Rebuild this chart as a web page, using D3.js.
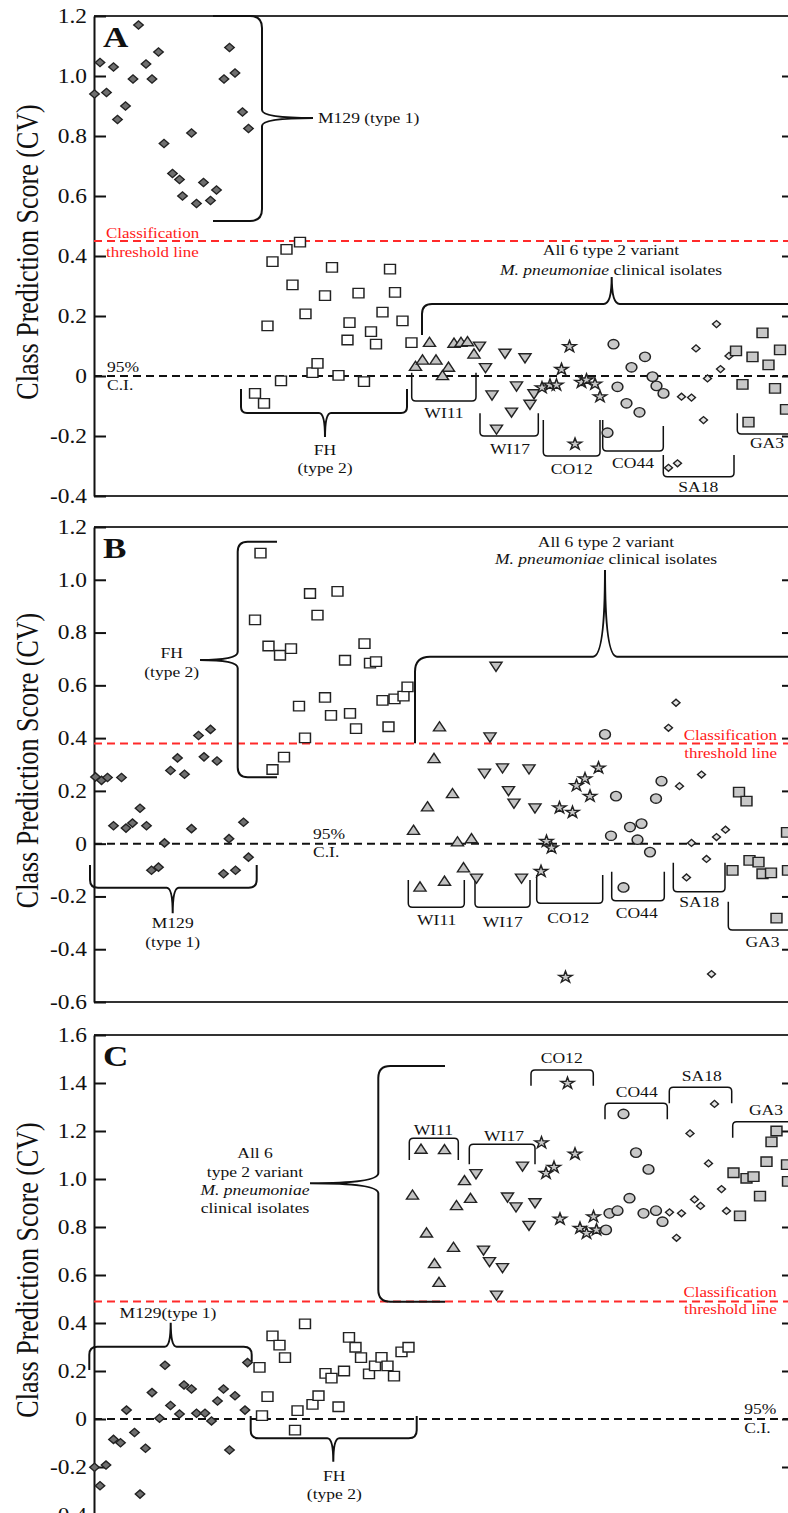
<!DOCTYPE html>
<html>
<head>
<meta charset="utf-8">
<script src="https://cdn.jsdelivr.net/npm/d3@7"></script>
<style>
  body { margin: 0; background: #fff; }
  svg { display: block; }
</style>
</head>
<body>
<div id="chart"></div>
<script>
// [sample position, class prediction score]
const groups = ["M129", "FH", "WI11", "WI17", "CO12", "CO44", "SA18", "GA3"];

const aM129 = [[0.1,0.94],[1.2,1.045],[2.5,0.945],[3.9,1.03],[4.7,0.855],[6.3,0.90],[7.8,0.99],[8.9,1.17],[10.4,1.04],[11.6,0.99],[12.9,1.08],[14.0,0.775],[15.7,0.675],[17.1,0.655],[17.7,0.60],[19.5,0.81],[20.5,0.575],[21.9,0.645],[23.3,0.585],[24.5,0.62],[26.0,0.99],[27.1,1.095],[28.2,1.01],[29.7,0.88],[30.9,0.825]];
const aFH = [[32.2,-0.058],[34.0,-0.091],[34.7,0.167],[35.7,0.381],[37.4,-0.016],[38.5,0.422],[39.7,0.304],[41.2,0.446],[42.3,0.207],[43.7,0.011],[44.7,0.042],[46.2,0.268],[47.6,0.362],[48.9,0.002],[50.7,0.12],[51.1,0.178],[52.9,0.276],[54.0,-0.019],[55.4,0.148],[56.4,0.106],[57.7,0.213],[59.2,0.356],[60.2,0.279],[61.7,0.184],[63.5,0.111]];
const aWI11 = [[64.3,0.029],[65.7,0.05],[67.1,0.109],[68.4,0.05],[69.7,-0.002],[70.9,0.026],[72.0,0.106],[73.4,0.109],[74.7,0.111],[76.0,0.07]];
const aWI17 = [[77.1,0.103],[78.3,0.031],[79.6,-0.06],[80.5,-0.174],[82.2,0.079],[83.5,-0.117],[84.5,-0.03],[86.2,0.064],[87.2,-0.091],[88.0,-0.056]];
const aCO12 = [[89.6,-0.039],[91.2,-0.03],[92.5,-0.03],[93.5,0.022],[95.1,0.098],[96.2,-0.227],[97.5,-0.021],[98.5,-0.013],[100.2,-0.027],[101.2,-0.069]];
const aCO44 = [[102.7,-0.189],[103.9,0.106],[104.7,-0.036],[106.5,-0.091],[107.5,0.029],[109.1,-0.121],[110.2,0.064],[111.7,-0.002],[112.5,-0.033],[113.9,-0.058]];
const aSA18 = [[114.9,-0.306],[116.7,-0.291],[117.5,-0.069],[119.5,-0.072],[120.4,0.092],[121.9,-0.147],[122.7,-0.008],[124.5,0.173],[125.3,0.023],[127.0,0.067]];
const aGA3 = [[128.4,0.084],[129.7,-0.028],[130.9,-0.154],[131.7,0.064],[133.7,0.144],[134.9,0.037],[136.2,-0.041],[137.2,0.087],[138.4,-0.111]];

const bM129 = [[0.3,0.253],[1.5,0.24],[2.7,0.251],[3.9,0.068],[5.5,0.251],[6.4,0.059],[7.7,0.078],[9.2,0.134],[10.5,0.068],[11.5,-0.101],[12.9,-0.089],[14.1,0.003],[15.3,0.277],[16.7,0.325],[18.1,0.263],[19.5,0.057],[20.9,0.41],[22.0,0.329],[23.3,0.433],[24.6,0.313],[25.9,-0.114],[27.0,0.019],[28.3,-0.101],[29.9,0.081],[30.9,-0.051]];
const bFH = [[32.2,0.848],[33.3,1.101],[34.9,0.749],[35.7,0.281],[37.2,0.714],[38.0,0.328],[39.4,0.739],[41.0,0.521],[42.2,0.401],[43.2,0.948],[44.7,0.866],[46.2,0.554],[47.4,0.486],[48.7,0.956],[50.2,0.695],[51.2,0.494],[52.4,0.436],[54.1,0.758],[55.2,0.684],[56.4,0.69],[57.7,0.543],[58.9,0.443],[60.1,0.549],[61.9,0.559],[62.7,0.594]];
const bWI11 = [[63.9,0.047],[65.2,-0.168],[66.7,0.136],[68.0,0.319],[69.1,0.439],[70.1,-0.146],[71.7,0.186],[72.7,0.003],[73.9,-0.095],[75.5,0.015]];
const bWI17 = [[76.5,-0.127],[78.1,0.271],[79.2,0.408],[80.4,0.676],[81.7,0.291],[82.9,0.205],[84.0,0.157],[85.5,-0.127],[87.0,0.287],[88.2,0.139]];
const bCO12 = [[89.4,-0.105],[90.5,0.009],[91.5,-0.016],[93.1,0.136],[94.3,-0.506],[95.7,0.119],[96.5,0.22],[98.2,0.246],[99.2,0.18],[100.9,0.287]];
const bCO44 = [[102.2,0.414],[103.4,0.03],[104.4,0.18],[105.9,-0.166],[107.2,0.063],[108.7,0.015],[109.5,0.076],[111.2,-0.032],[112.4,0.171],[113.5,0.237]];
const bSA18 = [[114.9,0.439],[116.4,0.534],[117.1,0.218],[118.5,-0.128],[119.5,0.003],[121.5,0.262],[122.5,-0.058],[123.5,-0.494],[124.5,0.025],[126.3,0.053]];
const bGA3 = [[127.7,-0.101],[129.0,0.195],[130.5,0.161],[131.1,-0.063],[132.9,-0.07],[133.7,-0.114],[135.4,-0.111],[136.5,-0.282],[138.6,0.043],[138.8,-0.101]];

const cM129 = [[0.1,-0.201],[1.2,-0.278],[2.4,-0.192],[3.9,-0.085],[5.3,-0.099],[6.5,0.037],[8.1,-0.056],[9.2,-0.313],[10.3,-0.122],[11.6,0.11],[13.1,0.003],[14.2,0.224],[15.3,0.056],[17.1,0.021],[18.0,0.142],[19.5,0.125],[20.5,0.024],[22.2,0.024],[23.5,-0.008],[24.7,0.075],[25.9,0.125],[27.1,-0.129],[28.2,0.097],[30.2,0.037],[30.7,0.235]];
const cFH = [[33.1,0.215],[33.6,0.014],[34.7,0.093],[35.7,0.346],[37.1,0.308],[38.2,0.256],[40.2,-0.046],[40.7,0.035],[42.2,0.396],[43.7,0.061],[44.9,0.097],[46.3,0.19],[47.5,0.17],[48.9,0.051],[50.0,0.2],[51.0,0.34],[52.3,0.299],[53.4,0.256],[55.0,0.188],[56.2,0.221],[57.5,0.257],[58.7,0.221],[60.0,0.179],[61.5,0.28],[62.9,0.299]];
const cWI11 = [[63.7,0.929],[65.4,1.12],[66.5,0.771],[68.1,0.643],[69.0,0.565],[70.1,1.118],[71.9,0.711],[72.5,0.885],[74.1,0.989],[75.3,0.915]];
const cWI17 = [[76.4,1.026],[77.9,0.708],[79.1,0.66],[80.5,0.52],[81.7,0.635],[82.7,0.929],[84.4,0.888],[85.7,1.058],[87.0,0.811],[88.2,0.905]];
const cCO12 = [[89.5,1.151],[90.4,1.024],[92.0,1.049],[93.2,0.833],[94.7,1.399],[96.2,1.104],[97.2,0.795],[98.5,0.774],[99.9,0.843],[100.5,0.788]];
const cCO44 = [[102.4,0.788],[103.1,0.857],[104.7,0.868],[105.9,1.271],[107.1,0.92],[108.4,1.11],[109.9,0.857],[110.9,1.04],[112.4,0.868],[113.7,0.822]];
const cSA18 = [[115.1,0.861],[116.5,0.755],[117.5,0.857],[119.2,1.19],[120.1,0.915],[121.3,0.888],[122.9,1.065],[124.1,1.313],[125.5,0.958],[126.5,0.867]];
const cGA3 = [[127.9,1.026],[129.2,0.846],[130.5,1.003],[131.9,1.01],[133.2,0.929],[134.5,1.072],[135.5,1.155],[136.5,1.2],[138.6,1.06],[138.8,0.99]];

const ticksA = [-0.4, -0.2, 0, 0.2, 0.4, 0.6, 0.8, 1.0, 1.2];
const ticksB = [-0.6, -0.4, -0.2, 0, 0.2, 0.4, 0.6, 0.8, 1.0, 1.2];
const ticksC = [-0.4, -0.2, 0, 0.2, 0.4, 0.6, 0.8, 1.0, 1.2, 1.4, 1.6];
const thresholds = [0.45, 0.38, 0.49];

const W = 788, H = 1513;
const SX = 1.17;   // the original figure is stretched sideways
const FONT = "'Liberation Serif','Times New Roman',serif";

const markerStyle = {
    M129: { type: d3.symbolSquare, size: 34, rot: 45, fill: "#6f6f6f" },
    FH:   { type: d3.symbolSquare, size: 90, rot: 0, fill: "#fff" },
    WI11: { type: d3.symbolTriangle, size: 48, rot: 0, fill: "#c2c2c2" },
    WI17: { type: d3.symbolTriangle, size: 48, rot: 180, fill: "#c2c2c2" },
    CO12: { type: d3.symbolStar, size: 42, rot: 0, fill: "#c8c8c8" },
    CO44: { type: d3.symbolCircle, size: 70, rot: 0, fill: "#c8c8c8" },
    SA18: { type: d3.symbolSquare, size: 24, rot: 45, fill: "#e2e2e2" },
    GA3:  { type: d3.symbolSquare, size: 90, rot: 0, fill: "#c8c8c8" }
};

const x = d3.scaleLinear().domain([0, 140]).range([94, 794]);

const panels = [
    { letter: "A", series: [aM129, aFH, aWI11, aWI17, aCO12, aCO44, aSA18, aGA3], ticks: ticksA,
      domain: [-0.4, 1.2], range: [496, 16], thr: thresholds[0] },
    { letter: "B", series: [bM129, bFH, bWI11, bWI17, bCO12, bCO44, bSA18, bGA3], ticks: ticksB,
      domain: [-0.6, 1.2], range: [1002, 527], thr: thresholds[1] },
    { letter: "C", series: [cM129, cFH, cWI11, cWI17, cCO12, cCO44, cSA18, cGA3], ticks: ticksC,
      domain: [-0.4, 1.6], range: [1515, 1035], thr: thresholds[2] }
];

// annotation layout (pixels)
const braces = [
    [ // A
        { v: true, a1: 16, a2: 221, e1: 213, e2: 213, base: 262, c: 118, tip: 313, r: 12, rc: 8 },
        { v: false, a1: 241, a2: 407, e1: 389, e2: 389, base: 413, c: 325, tip: 437, r: 6, rc: 6 },
        { v: false, a1: 422, a2: 840, e1: 335, e2: 335, base: 304, c: 611.7, tip: 277, r: 10, rc: 8 },
        { v: false, a1: 411.7, a2: 476, e1: 372.7, e2: 372.7, base: 401, r: 4 },
        { v: false, a1: 480, a2: 538.3, e1: 413.3, e2: 413.3, base: 436, r: 4 },
        { v: false, a1: 543.3, a2: 600, e1: 420, e2: 420, base: 456, r: 4 },
        { v: false, a1: 602.7, a2: 663.3, e1: 420, e2: 426, base: 451, r: 4 },
        { v: false, a1: 663.3, a2: 734, e1: 455, e2: 455, base: 476.7, r: 4 },
        { v: false, a1: 737.3, a2: 840, e1: 413.3, e2: 413.3, base: 434, r: 4 }
    ],
    [ // B
        { v: true, a1: 541.7, a2: 777.3, e1: 277, e2: 277, base: 237.7, c: 660, tip: 200, r: 10, rc: 8 },
        { v: false, a1: 90, a2: 256.7, e1: 865, e2: 865, base: 887.7, c: 172.7, tip: 913.3, r: 8, rc: 6 },
        { v: false, a1: 415, a2: 840, e1: 743.3, e2: 743.3, base: 656.7, c: 605, tip: 570, r: 15, rc: 12 },
        { v: false, a1: 408.3, a2: 464.3, e1: 880, e2: 880, base: 907.3, r: 4 },
        { v: false, a1: 475, a2: 530, e1: 880, e2: 880, base: 907.3, r: 4 },
        { v: false, a1: 536.7, a2: 602.7, e1: 875, e2: 875, base: 903.3, r: 4 },
        { v: false, a1: 611.7, a2: 664.3, e1: 871.7, e2: 871.7, base: 900.7, r: 4 },
        { v: false, a1: 673.3, a2: 725, e1: 862.7, e2: 862.7, base: 891.7, r: 4 },
        { v: false, a1: 728.3, a2: 840, e1: 901.7, e2: 901.7, base: 930, r: 4 }
    ],
    [ // C
        { v: true, a1: 1066, a2: 1301.7, e1: 445, e2: 445, base: 378.3, c: 1183.3, tip: 310, r: 12, rc: 10 },
        { v: false, a1: 89.3, a2: 251.7, e1: 1370, e2: 1361.7, base: 1346.7, c: 170.7, tip: 1322.7, r: 8, rc: 6 },
        { v: false, a1: 250.7, a2: 416.7, e1: 1416, e2: 1416, base: 1438.3, c: 333.3, tip: 1461.7, r: 8, rc: 6 },
        { v: false, a1: 409.3, a2: 458.3, e1: 1160, e2: 1160, base: 1138.3, r: 4 },
        { v: false, a1: 469.3, a2: 535, e1: 1164.3, e2: 1164.3, base: 1144.3, r: 4 },
        { v: false, a1: 531, a2: 593.3, e1: 1085.7, e2: 1085.7, base: 1070, r: 4 },
        { v: false, a1: 605, a2: 667.3, e1: 1119.3, e2: 1119.3, base: 1103.3, r: 4 },
        { v: false, a1: 669.3, a2: 731.7, e1: 1103.3, e2: 1103.3, base: 1087.3, r: 4 },
        { v: false, a1: 732.7, a2: 840, e1: 1137.7, e2: 1137.7, base: 1121.7, r: 4 }
    ]
];

const ITAL = "M. pneumoniae";
const notes = [
    [ // A
        { x: 318, y: 123, t: "M129 (type 1)" },
        { x: 325, y: 455, t: "FH", a: "middle" },
        { x: 325, y: 473, t: "(type 2)", a: "middle" },
        { x: 611, y: 255, t: "All 6 type 2 variant", a: "middle" },
        { x: 611, y: 275, t: [[ITAL, true], [" clinical isolates", false]], a: "middle" },
        { x: 444, y: 418, t: "WI11", a: "middle" },
        { x: 510, y: 454, t: "WI17", a: "middle" },
        { x: 571.7, y: 474, t: "CO12", a: "middle" },
        { x: 633, y: 468.3, t: "CO44", a: "middle" },
        { x: 698.3, y: 491.7, t: "SA18", a: "middle" },
        { x: 767, y: 448.3, t: "GA3", a: "middle" },
        { x: 107, y: 371.7, t: "95%" },
        { x: 107, y: 390, t: "C.I." },
        { x: 106, y: 237.5, t: "Classification", red: true },
        { x: 106, y: 256.5, t: "threshold line", red: true }
    ],
    [ // B
        { x: 171.7, y: 658.3, t: "FH", a: "middle" },
        { x: 171.7, y: 676.7, t: "(type 2)", a: "middle" },
        { x: 172.7, y: 928.3, t: "M129", a: "middle" },
        { x: 172.7, y: 947.3, t: "(type 1)", a: "middle" },
        { x: 606, y: 546.7, t: "All 6 type 2 variant", a: "middle" },
        { x: 606, y: 564, t: [[ITAL, true], [" clinical isolates", false]], a: "middle" },
        { x: 436.7, y: 925, t: "WI11", a: "middle" },
        { x: 502.7, y: 926.7, t: "WI17", a: "middle" },
        { x: 568.3, y: 923.3, t: "CO12", a: "middle" },
        { x: 636.7, y: 917.7, t: "CO44", a: "middle" },
        { x: 699.3, y: 906.7, t: "SA18", a: "middle" },
        { x: 762.5, y: 946.7, t: "GA3", a: "middle" },
        { x: 313, y: 839.3, t: "95%" },
        { x: 313, y: 857.3, t: "C.I." },
        { x: 777, y: 740, t: "Classification", a: "end", red: true },
        { x: 777, y: 758.3, t: "threshold line", a: "end", red: true }
    ],
    [ // C
        { x: 255, y: 1158.3, t: "All 6", a: "middle" },
        { x: 255, y: 1176.7, t: "type 2 variant", a: "middle" },
        { x: 255, y: 1195, t: [[ITAL, true]], a: "middle" },
        { x: 255, y: 1212.7, t: "clinical isolates", a: "middle" },
        { x: 168, y: 1318.3, t: "M129(type 1)", a: "middle" },
        { x: 334.3, y: 1480.7, t: "FH", a: "middle" },
        { x: 334.3, y: 1499.3, t: "(type 2)", a: "middle" },
        { x: 433.3, y: 1135, t: "WI11", a: "middle" },
        { x: 504, y: 1141, t: "WI17", a: "middle" },
        { x: 561.7, y: 1063.3, t: "CO12", a: "middle" },
        { x: 636.7, y: 1097.3, t: "CO44", a: "middle" },
        { x: 701.7, y: 1080.7, t: "SA18", a: "middle" },
        { x: 766, y: 1115, t: "GA3", a: "middle" },
        { x: 744.3, y: 1414, t: "95%" },
        { x: 744.3, y: 1432.7, t: "C.I." },
        { x: 776.7, y: 1296.7, t: "Classification", a: "end", red: true },
        { x: 776.7, y: 1314, t: "threshold line", a: "end", red: true }
    ]
];

const svg = d3.select("#chart").append("svg")
    .attr("width", W)
    .attr("height", H)
    .style("background-color", "white")
    .attr("font-family", FONT);

function drawBrace(g, o) {
    const P = (a, b) => o.v ? [b, a] : [a, b];
    const s1 = Math.sign(o.base - o.e1), s2 = Math.sign(o.base - o.e2);
    const p = d3.path();
    p.moveTo(...P(o.a1, o.e1));
    p.lineTo(...P(o.a1, o.base - s1 * o.r));
    p.quadraticCurveTo(...P(o.a1, o.base), ...P(o.a1 + o.r, o.base));
    if (o.c != null) {
        p.lineTo(...P(o.c - o.rc, o.base));
        p.quadraticCurveTo(...P(o.c, o.base), ...P(o.c, o.tip));
        p.quadraticCurveTo(...P(o.c, o.base), ...P(o.c + o.rc, o.base));
    }
    p.lineTo(...P(o.a2 - o.r, o.base));
    p.quadraticCurveTo(...P(o.a2, o.base), ...P(o.a2, o.base - s2 * o.r));
    p.lineTo(...P(o.a2, o.e2));
    g.append("path")
        .attr("d", p.toString())
        .attr("fill", "none")
        .attr("stroke", "#111")
        .attr("stroke-width", o.c != null ? 2 : 1.5);
}

function addText(g, n, size) {
    const t = g.append("text")
        .attr("transform", `translate(${n.x},${n.y}) scale(${SX},1)`)
        .attr("text-anchor", n.a || "start")
        .attr("font-size", n.red ? 14.5 : size)
        .attr("fill", n.red ? "#ff1a1a" : "#111");
    const parts = typeof n.t === "string" ? [[n.t, false]] : n.t;
    parts.forEach(([str, it]) => {
        t.append("tspan").attr("font-style", it ? "italic" : "normal").text(str);
    });
}

panels.forEach((pn, i) => {
    const y = d3.scaleLinear().domain(pn.domain).range(pn.range);
    const g = svg.append("g").attr("class", "panel-" + pn.letter);
    const xL = x.range()[0], xR = x.range()[1];

    //frame lines top and bottom
    g.selectAll(".frame")
        .data(pn.domain)
        .enter()
        .append("line")
        .attr("x1", xL).attr("x2", xR)
        .attr("y1", d => y(d)).attr("y2", d => y(d))
        .attr("stroke", "#333")
        .attr("stroke-width", 2);

    //axes
    const fmt = d => d === 0 ? "0" : d.toFixed(1);
    const yAxis = d3.axisLeft(y)
        .tickValues(pn.ticks)
        .tickSizeInner(-12)
        .tickSizeOuter(0)
        .tickPadding(6)
        .tickFormat(fmt);

    const ax = g.append("g")
        .attr("transform", "translate(" + xL + ",0)")
        .call(yAxis);
    ax.attr("font-family", FONT).attr("font-size", 20);
    ax.selectAll("path, line").attr("stroke", "#111").attr("stroke-width", 2);
    ax.selectAll("text").attr("fill", "#111").attr("transform", `scale(${SX},1)`);

    const rAxis = d3.axisRight(y)
        .tickValues(pn.ticks.slice(1, -1))
        .tickSizeInner(-12)
        .tickSizeOuter(0)
        .tickFormat("");
    g.append("g")
        .attr("transform", "translate(" + xR + ",0)")
        .call(rAxis)
        .selectAll("path, line").attr("stroke", "#111").attr("stroke-width", 2);

    //95% C.I. line and threshold line
    g.append("line")
        .attr("x1", xL).attr("x2", xR)
        .attr("y1", y(0)).attr("y2", y(0))
        .attr("stroke", "#111")
        .attr("stroke-width", 2)
        .attr("stroke-dasharray", "8,5");

    g.append("line")
        .attr("x1", xL).attr("x2", xR)
        .attr("y1", y(pn.thr)).attr("y2", y(pn.thr))
        .attr("stroke", "#ff2a2a")
        .attr("stroke-width", 2)
        .attr("stroke-dasharray", "8,5");

    //braces
    braces[i].forEach(b => drawBrace(g, b));

    //points
    pn.series.forEach((data, k) => {
        const st = markerStyle[groups[k]];
        const sym = d3.symbol().type(st.type).size(st.size);
        g.selectAll(".pt-" + groups[k])
            .data(data)
            .enter()
            .append("path")
            .attr("class", "pt-" + groups[k])
            .attr("d", sym)
            .attr("transform", d => `translate(${x(d[0])},${y(d[1])}) scale(1.15,1) rotate(${st.rot})`)
            .attr("fill", st.fill)
            .attr("stroke", "#222")
            .attr("stroke-width", 1.3)
            .attr("stroke-linejoin", "miter");
    });

    //labels
    notes[i].forEach(n => addText(g, n, 15));

    //panel letter
    const top = pn.range[1];
    g.append("text")
        .attr("transform", `translate(103,${top + 31}) scale(${SX},1)`)
        .attr("font-size", 30)
        .attr("font-weight", "bold")
        .attr("fill", "#111")
        .text(pn.letter);

    //y title
    const cy = (Math.min(pn.range[0], H) + top) / 2 - 4;
    g.append("text")
        .attr("transform", `translate(38,${cy}) scale(1.22,1) rotate(-90)`)
        .attr("text-anchor", "middle")
        .attr("font-size", 26)
        .attr("fill", "#111")
        .text("Class Prediction Score (CV)");
});
</script>
</body>
</html>
